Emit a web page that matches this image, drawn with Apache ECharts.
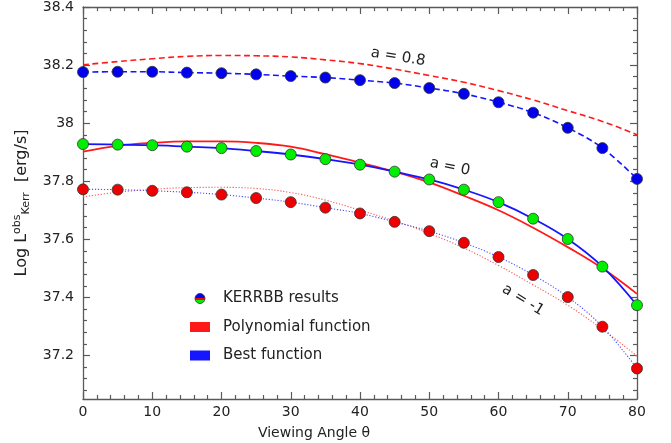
<!DOCTYPE html>
<html>
<head>
<meta charset="utf-8">
<script src="https://cdn.jsdelivr.net/npm/echarts@6/dist/echarts.min.js"></script>
<style>
html,body{margin:0;padding:0;background:#fff;}
#c{width:671px;height:443px;}
</style>
</head>
<body>
<div id="c"></div>
<script>
// ---- data ----
const theta = [0,5,10,15,20,25,30,35,40,45,50,55,60,65,70,75,80];

// KERRBB results (points)
const kerrbbA08 = [38.176,38.177,38.177,38.174,38.172,38.168,38.162,38.157,38.148,38.138,38.121,38.101,38.072,38.036,37.984,37.914,37.808];
const kerrbbA0  = [37.928,37.926,37.924,37.919,37.914,37.904,37.892,37.876,37.857,37.833,37.806,37.771,37.728,37.671,37.601,37.506,37.373];
const kerrbbAm1 = [37.772,37.771,37.767,37.762,37.754,37.742,37.728,37.709,37.689,37.660,37.628,37.588,37.539,37.477,37.401,37.299,37.155];

// Polynomial function curves
const polyA08 = [38.201,38.212,38.222,38.230,38.233,38.232,38.228,38.218,38.205,38.186,38.164,38.141,38.112,38.080,38.043,38.006,37.960];
const polyA0  = [37.902,37.922,37.932,37.937,37.937,37.932,37.919,37.893,37.864,37.833,37.796,37.750,37.700,37.640,37.573,37.500,37.412];
const polyAm1 = [37.746,37.762,37.772,37.778,37.779,37.775,37.761,37.735,37.700,37.663,37.620,37.570,37.510,37.443,37.373,37.290,37.198];

// axis ticks
const yMajorTicks = [37.2,37.4,37.6,37.8,38.0,38.2,38.4];
const yMinorTicks = [];
for (let i = 0; i <= 34; i++) {
  const v = Math.round((37.08 + i*0.04)*100)/100;
  if (!yMajorTicks.some(m => Math.abs(m - v) < 1e-6)) yMinorTicks.push(v);
}
const yMin = 37.05, yMax = 38.4;
const xMin = 0, xMax = 80, xStep = 10;

const seriesLabels = ['a = 0.8','a = 0','a = -1'];
const legendNames = ['KERRBB results','Polynomial function','Best function'];

// ---- chart ----
const pair = arr => theta.map((t,i)=>[t,arr[i]]);
const FONT = 'DejaVu Sans';
const AX = '#5a5a5a';
const BLUE = '#1515ff', RED = '#ff1a1a';

const chart = echarts.init(document.getElementById('c'), null, {renderer:'canvas'});

function yAx(pos, major, labels){
  return {
    type:'value', position:pos, min:yMin, max:yMax, scale:true,
    axisLine:{show:major, lineStyle:{color:AX,width:1.3}},
    axisTick:{show:true, inside:true, length: major?7:4, customValues: major?yMajorTicks:yMinorTicks, lineStyle:{color:AX,width:1.2}},
    axisLabel:{show:labels, customValues:yMajorTicks, margin:9, fontFamily:FONT, fontSize:14, color:'#222',
      formatter: v => String(+(+v).toFixed(1))},
    splitLine:{show:false}
  };
}
function xAx(pos, labels){
  return {
    type:'value', position:pos, min:xMin, max:xMax, interval:xStep,
    axisLine:{show:true, onZero:false, lineStyle:{color:AX,width:1.3}},
    axisTick:{show:true, inside:true, length:7, lineStyle:{color:AX,width:1.2}},
    minorTick:{show:true, splitNumber:5, length:4, lineStyle:{color:AX,width:1.2}},
    axisLabel:{show:labels, margin:6, fontFamily:FONT, fontSize:14, color:'#222'},
    splitLine:{show:false}
  };
}

const yAxes = [yAx('left',true,true), yAx('left',false,false), yAx('right',true,false), yAx('right',false,false)];
yAxes[0].name = '{t|Log L}{sup|obs}{sub|Kerr}{t|  [erg/s]}';
yAxes[0].nameLocation = 'middle';
yAxes[0].nameRotate = 90;
yAxes[0].nameGap = 46;
yAxes[0].nameTextStyle = {fontFamily:FONT, color:'#222',
  rich:{ t:{fontFamily:FONT,fontSize:16,color:'#222'},
         sup:{fontFamily:FONT,fontSize:11,color:'#222',padding:[0,0,10,0]},
         sub:{fontFamily:FONT,fontSize:11,color:'#222',padding:[9,0,0,0]} }};

function line(name, arr, color, type, width, z){
  return {name, type:'line', data:pair(arr), xAxisIndex:0, yAxisIndex:0, smooth:0.4,
    showSymbol:false, symbol:'none', z:z||2, silent:true,
    lineStyle:{color, width, type}, itemStyle:{color}};
}
function pts(arr, color){
  return {name:'KERRBB results', type:'scatter', data:pair(arr), xAxisIndex:0, yAxisIndex:0, symbol:'circle', symbolSize:11, z:5,
    itemStyle:{color, borderColor:'#333', borderWidth:0.8, opacity:1}};
}

const option = {
  animation:false,
  backgroundColor:'#fff',
  grid:{left:83, right:34, top:7, bottom:44, containLabel:false},
  xAxis:[xAx('bottom',true), xAx('top',false)],
  yAxis:yAxes,
  legend:{
    orient:'vertical', left:185, top:286, itemWidth:20, itemHeight:10, itemGap:13.5,
    textStyle:{fontFamily:FONT, fontSize:15, color:'#222', padding:[0,0,0,8]},
    data:[
      {name:legendNames[0], icon:'circle', itemStyle:{color:{type:'linear',x:0,y:0,x2:0,y2:1,colorStops:[
        {offset:0,color:'#0000ff'},{offset:0.45,color:'#0000ff'},{offset:0.45,color:'#ff0000'},{offset:0.65,color:'#ff0000'},{offset:0.65,color:'#00ee00'},{offset:1,color:'#00ee00'}]}, borderColor:'#333', borderWidth:0.8}},
      {name:legendNames[1], icon:'rect', itemStyle:{color:RED, borderWidth:0}},
      {name:legendNames[2], icon:'rect', itemStyle:{color:BLUE, borderWidth:0}}
    ]
  },
  graphic:[
    {type:'text', x:314, y:433, style:{text:'Viewing Angle θ', font:'14px "DejaVu Sans"', fill:'#222', textAlign:'center', textVerticalAlign:'middle'}},
    {type:'text', x:398, y:57, rotation:-0.16, style:{text:seriesLabels[0], font:'15px "DejaVu Sans"', fill:'#222', textAlign:'center', textVerticalAlign:'middle'}},
    {type:'text', x:450, y:167, rotation:-0.21, style:{text:seriesLabels[1], font:'15px "DejaVu Sans"', fill:'#222', textAlign:'center', textVerticalAlign:'middle'}},
    {type:'text', x:523, y:300, rotation:-0.55, style:{text:seriesLabels[2], font:'15px "DejaVu Sans"', fill:'#222', textAlign:'center', textVerticalAlign:'middle'}}
  ],
  series:[
    line(legendNames[1], polyA08, RED, [6,3.5], 1.6, 2),
    line(legendNames[1], polyA0, RED, 'solid', 1.8, 2),
    line(legendNames[1], polyAm1, '#ff5555', [1.2,1.8], 1.1, 2),
    line(legendNames[2], kerrbbA08, BLUE, [6,3.5], 1.6, 3),
    line(legendNames[2], kerrbbA0, BLUE, 'solid', 1.8, 3),
    line(legendNames[2], kerrbbAm1, '#4d4dff', [1.2,1.8], 1.1, 3),
    pts(kerrbbA08, '#0000ee'),
    pts(kerrbbA0, '#00ee00'),
    pts(kerrbbAm1, '#ee0000')
  ]
};
chart.setOption(option);
</script>
</body>
</html>
